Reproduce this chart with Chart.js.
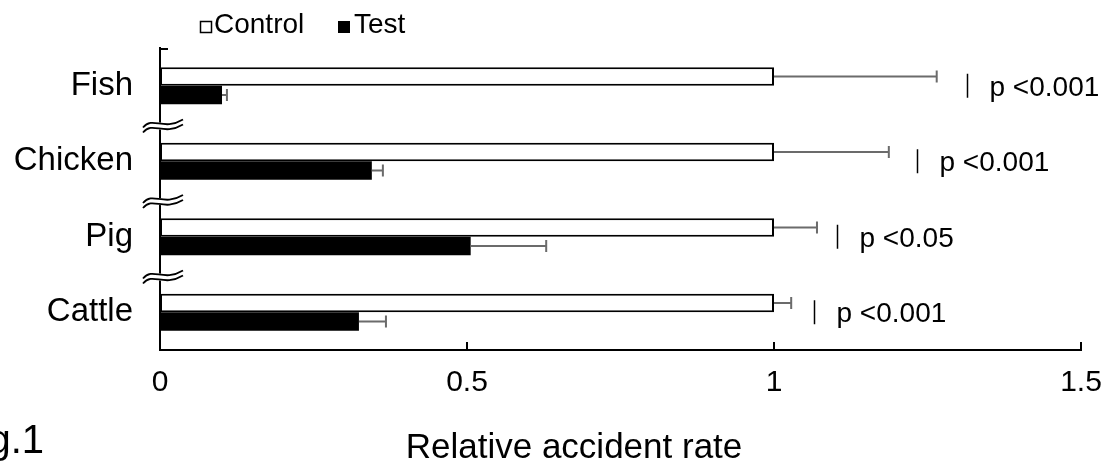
<!DOCTYPE html>
<html>
<head>
<meta charset="utf-8">
<script src="https://cdn.jsdelivr.net/npm/chart.js@4/dist/chart.umd.min.js"></script>
<style>
    html, body { margin: 0; padding: 0; background: #fff; }
    #wrap { width: 1111px; height: 468px; position: relative; }
</style>
</head>
<body>
<div id="wrap"><canvas id="chart"></canvas></div>
<script>
"use strict";

// data
const categories = ['Fish', 'Chicken', 'Pig', 'Cattle'];
const controlValues = [1, 1, 1, 1];
const controlErrors = [0.265, 0.187, 0.070, 0.028];
const testValues = [0.101, 0.345, 0.506, 0.324];
const testErrors = [0.008, 0.018, 0.123, 0.044];
const sigPositions = [1.314, 1.233, 1.102, 1.065];
const sigLabels = ['p <0.001', 'p <0.001', 'p <0.05', 'p <0.001'];
const xTicks = [0, 0.5, 1, 1.5];

const FONT = '"Liberation Sans", Arial, Helvetica, sans-serif';
const ERR_COLOR = '#6b6b6b';

const drawWave = (ctx, left, cy) => {
    ctx.moveTo(left, cy + 3);
    ctx.bezierCurveTo(left + 10, cy - 9, left + 20, cy + 7, left + 40, cy - 5);
};

const decorPlugin = {
    id: 'decor',
    afterDatasetsDraw(chart) {
        const ctx = chart.ctx;
        const x = chart.scales.x;
        const errs = [controlErrors, testErrors];
        const vals = [controlValues, testValues];

        // error bars
        ctx.save();
        ctx.strokeStyle = ERR_COLOR;
        ctx.lineWidth = 2;
        for (let d = 0; d < 2; d++) {
            const meta = chart.getDatasetMeta(d);
            meta.data.forEach((bar, i) => {
                const x0 = x.getPixelForValue(vals[d][i]);
                const x1 = x.getPixelForValue(vals[d][i] + errs[d][i]);
                ctx.beginPath();
                ctx.moveTo(x0, bar.y);
                ctx.lineTo(x1, bar.y);
                ctx.moveTo(x1, bar.y - 6);
                ctx.lineTo(x1, bar.y + 6);
                ctx.stroke();
            });
        }
        ctx.restore();
    },
    afterDraw(chart) {
        const ctx = chart.ctx;
        const area = chart.chartArea;
        const x = chart.scales.x;
        const y = chart.scales.y;

        ctx.save();
        ctx.strokeStyle = '#000';
        ctx.fillStyle = '#000';

        // x tick marks pointing inward
        ctx.lineWidth = 2;
        xTicks.forEach((v) => {
            if (v === 0) return;
            const px = Math.round(x.getPixelForValue(v));
            ctx.beginPath();
            ctx.moveTo(px, area.bottom);
            ctx.lineTo(px, area.bottom - 8);
            ctx.stroke();
        });
        // top tick of y axis
        ctx.beginPath();
        ctx.moveTo(area.left, area.top + 1);
        ctx.lineTo(area.left + 8, area.top + 1);
        ctx.stroke();

        // axis break marks between categories
        for (let i = 0; i < categories.length - 1; i++) {
            const cy = (y.getPixelForValue(i) + y.getPixelForValue(i + 1)) / 2 + 1;
            const left = area.left - 17;
            ctx.beginPath();
            drawWave(ctx, left, cy + 2.5);
            ctx.strokeStyle = '#fff';
            ctx.lineWidth = 7;
            ctx.stroke();
            ctx.strokeStyle = '#000';
            ctx.lineWidth = 1.8;
            ctx.beginPath();
            drawWave(ctx, left, cy);
            drawWave(ctx, left, cy + 5);
            ctx.stroke();
        }

        // significance markers
        ctx.font = `28px ${FONT}`;
        ctx.textAlign = 'left';
        ctx.textBaseline = 'alphabetic';
        ctx.lineWidth = 1.5;
        sigPositions.forEach((v, i) => {
            const px = Math.round(x.getPixelForValue(v)) + 0.5;
            const cy = y.getPixelForValue(i);
            ctx.beginPath();
            ctx.moveTo(px, cy - 12);
            ctx.lineTo(px, cy + 12);
            ctx.stroke();
            ctx.fillText(sigLabels[i], px + 22, cy + 10);
        });

        // legend
        const ds = chart.data.datasets;
        ctx.font = `28px ${FONT}`;
        ctx.lineWidth = 1.5;
        ctx.fillStyle = '#fff';
        ctx.fillRect(200.5, 21.5, 11, 11);
        ctx.strokeRect(200.5, 21.5, 11, 11);
        ctx.fillStyle = '#000';
        ctx.fillText(ds[0].label, 214, 33);
        ctx.fillRect(338, 21, 12, 12);
        ctx.fillText(ds[1].label, 354, 33);

        // axis title
        ctx.font = `35px ${FONT}`;
        ctx.textAlign = 'center';
        ctx.fillText('Relative accident rate', 574, 458);

        // figure label, partly cut off at the left edge
        ctx.font = `40px ${FONT}`;
        ctx.textAlign = 'right';
        ctx.fillText('Fig.1', 44, 453);
        ctx.restore();
    }
};

const config = {
    type: 'bar',
    data: {
        labels: categories,
        datasets: [{
            label: 'Control',
            data: controlValues,
            backgroundColor: '#fff',
            borderColor: '#000',
            borderWidth: 2,
            borderSkipped: false
        }, {
            label: 'Test',
            data: testValues,
            backgroundColor: '#000',
            borderColor: '#000',
            borderWidth: 0
        }]
    },
    options: {
        indexAxis: 'y',
        responsive: true,
        maintainAspectRatio: false,
        animation: false,
        devicePixelRatio: 1,
        datasets: {
            bar: { barPercentage: 1, categoryPercentage: 0.49 }
        },
        layout: {
            padding: { top: 48, right: 30, bottom: 0, left: 0 }
        },
        plugins: {
            legend: { display: false },
            tooltip: { enabled: false }
        },
        scales: {
            x: {
                min: 0,
                max: 1.5,
                afterBuildTicks: (scale) => {
                    scale.ticks = xTicks.map((v) => ({ value: v }));
                },
                afterFit: (scale) => {
                    scale.height = 118;
                    scale.paddingLeft = 0;
                    scale.paddingRight = 0;
                },
                grid: { display: false, drawTicks: false },
                border: { display: true, color: '#000', width: 2 },
                ticks: {
                    color: '#000',
                    padding: 15,
                    maxRotation: 0,
                    font: { family: FONT, size: 30 },
                    callback: (value) => String(value)
                }
            },
            y: {
                afterFit: (scale) => { scale.width = 160; },
                grid: { display: false, drawTicks: false },
                border: { display: true, color: '#000', width: 2 },
                ticks: {
                    color: '#000',
                    padding: 27,
                    font: { family: FONT, size: 33 }
                }
            }
        }
    },
    plugins: [decorPlugin]
};

new Chart(document.getElementById('chart'), config);
</script>
</body>
</html>
